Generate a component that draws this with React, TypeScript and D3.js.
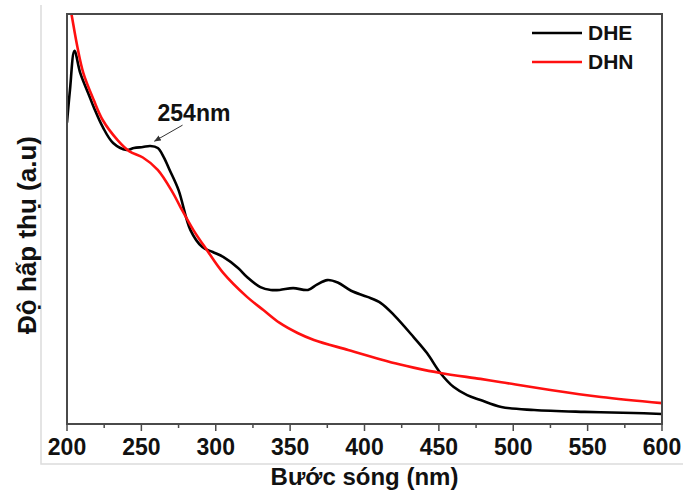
import React, { useRef, useEffect } from 'react';
import * as d3 from 'd3';

// wavelength (nm) and absorbance (a.u.)
const dheWave = [200, 202, 205, 209, 215, 218, 224, 231, 240, 245, 251, 256, 261, 265, 269, 275, 283, 291, 298, 305, 315, 321, 330, 337, 343, 352, 362, 368, 375, 382, 391, 402, 411, 420, 433, 442, 451, 460, 469, 478, 492, 514, 548, 581, 600];
const dheAbs = [1.47, 1.63, 1.82, 1.71, 1.6, 1.545, 1.449, 1.371, 1.337, 1.346, 1.351, 1.356, 1.346, 1.302, 1.239, 1.141, 0.946, 0.863, 0.839, 0.815, 0.761, 0.717, 0.668, 0.654, 0.654, 0.663, 0.654, 0.68, 0.702, 0.69, 0.65, 0.62, 0.59, 0.53, 0.424, 0.346, 0.249, 0.18, 0.141, 0.117, 0.083, 0.068, 0.059, 0.054, 0.049];

const dhnWave = [200, 203, 207, 211, 218, 224, 234, 242, 251, 261, 271, 276, 285, 294, 305, 321, 332, 343, 355, 366, 389, 411, 424, 433, 451, 478, 492, 525, 559, 600];
const dhnAbs = [2.12, 2.0, 1.839, 1.712, 1.58, 1.483, 1.385, 1.33, 1.3, 1.24, 1.13, 1.062, 0.946, 0.849, 0.737, 0.62, 0.556, 0.493, 0.444, 0.41, 0.361, 0.315, 0.29, 0.275, 0.249, 0.22, 0.204, 0.166, 0.132, 0.102];

const xTicks = [200, 250, 300, 350, 400, 450, 500, 550, 600];
const xMinor = [225, 275, 325, 375, 425, 475, 525, 575];

const series = [
    { name: 'DHE', color: '#000000', wave: dheWave, abs: dheAbs },
    { name: 'DHN', color: '#ff1010', wave: dhnWave, abs: dhnAbs },
];

const App = () => {
    const ref = useRef(null);
    const width = 683;
    const height = 496;
    const margin = { top: 14, right: 21, bottom: 72, left: 67 };

    useEffect(() => {
        const svg = d3.select(ref.current);
        svg.selectAll('*').remove();

        const font = 'Arial, "Liberation Sans", sans-serif';
        const iw = width - margin.left - margin.right;
        const ih = height - margin.top - margin.bottom;

        const x = d3.scaleLinear().domain([200, 600]).range([margin.left, margin.left + iw]);
        const y = d3.scaleLinear().domain([0, 2]).range([margin.top + ih, margin.top]);

        // faint image border at left and bottom
        svg.append('path')
            .attr('d', `M41,5 V464 H${width}`)
            .attr('fill', 'none')
            .attr('stroke', '#dcdcdc')
            .attr('stroke-width', 1.5);

        svg.append('defs').append('clipPath').attr('id', 'plotclip')
            .append('rect')
            .attr('x', margin.left).attr('y', margin.top)
            .attr('width', iw).attr('height', ih);

        svg.select('defs').append('marker')
            .attr('id', 'arrowhead')
            .attr('viewBox', '0 0 10 10')
            .attr('refX', 9).attr('refY', 5)
            .attr('markerWidth', 7).attr('markerHeight', 7)
            .attr('orient', 'auto')
            .append('path')
            .attr('d', 'M0,1 L10,5 L0,9 Z')
            .attr('fill', '#333');

        const line = d3.line()
            .x((d) => x(d[0]))
            .y((d) => y(d[1]))
            .curve(d3.curveCatmullRom.alpha(0.5));

        const plot = svg.append('g').attr('clip-path', 'url(#plotclip)');
        series.forEach((s) => {
            plot.append('path')
                .datum(s.wave.map((w, i) => [w, s.abs[i]]))
                .attr('d', line)
                .attr('fill', 'none')
                .attr('stroke', s.color)
                .attr('stroke-width', 2.6)
                .attr('stroke-linejoin', 'round');
        });

        // frame
        svg.append('rect')
            .attr('x', margin.left).attr('y', margin.top)
            .attr('width', iw).attr('height', ih)
            .attr('fill', 'none')
            .attr('stroke', '#4a4a4a')
            .attr('stroke-width', 2);

        // x axis
        const axis = svg.append('g').attr('transform', `translate(0, ${margin.top + ih})`);
        axis.selectAll('.major').data(xTicks).enter().append('line')
            .attr('x1', (d) => x(d)).attr('x2', (d) => x(d))
            .attr('y1', 0).attr('y2', 7)
            .attr('stroke', '#4a4a4a').attr('stroke-width', 1.5);
        axis.selectAll('.minor').data(xMinor).enter().append('line')
            .attr('x1', (d) => x(d)).attr('x2', (d) => x(d))
            .attr('y1', 0).attr('y2', 4)
            .attr('stroke', '#4a4a4a').attr('stroke-width', 1.5);
        axis.selectAll('text').data(xTicks).enter().append('text')
            .attr('x', (d) => x(d))
            .attr('y', 31)
            .attr('text-anchor', 'middle')
            .style('font-family', font)
            .style('font-weight', 'bold')
            .style('font-size', '23px')
            .attr('fill', '#111')
            .text((d) => d);

        svg.append('text')
            .attr('x', margin.left + iw / 2)
            .attr('y', 485)
            .attr('text-anchor', 'middle')
            .style('font-family', font)
            .style('font-weight', 'bold')
            .style('font-size', '24px')
            .attr('fill', '#111')
            .text('Bước sóng (nm)');

        svg.append('text')
            .attr('transform', `translate(36, 235) rotate(-90)`)
            .attr('text-anchor', 'middle')
            .style('font-family', font)
            .style('font-weight', 'bold')
            .style('font-size', '26px')
            .attr('fill', '#111')
            .text('Độ hấp thụ (a.u)');

        // legend
        const legend = svg.append('g');
        series.forEach((s, i) => {
            const ly = 33 + i * 29;
            legend.append('line')
                .attr('x1', 532).attr('x2', 582)
                .attr('y1', ly).attr('y2', ly)
                .attr('stroke', s.color)
                .attr('stroke-width', 2.6);
            legend.append('text')
                .attr('x', 588)
                .attr('y', ly + 7)
                .style('font-family', font)
                .style('font-weight', 'bold')
                .style('font-size', '21px')
                .attr('fill', '#111')
                .text(s.name);
        });

        // peak annotation
        const tipX = x(257.5);
        const tipY = y(1.37) - 1;
        svg.append('line')
            .attr('x1', tipX + 30).attr('y1', tipY - 17)
            .attr('x2', tipX + 2).attr('y2', tipY - 1)
            .attr('stroke', '#333')
            .attr('stroke-width', 1)
            .attr('marker-end', 'url(#arrowhead)');
        svg.append('text')
            .attr('x', tipX + 5)
            .attr('y', tipY - 21)
            .style('font-family', font)
            .style('font-weight', 'bold')
            .style('font-size', '23px')
            .attr('fill', '#111')
            .text('254nm');
    }, []);

    return (
        <svg ref={ref} width={width} height={height}
            style={{ position: 'absolute', left: 0, top: 0, background: 'white' }}>
        </svg>
    );
};

export default App;
